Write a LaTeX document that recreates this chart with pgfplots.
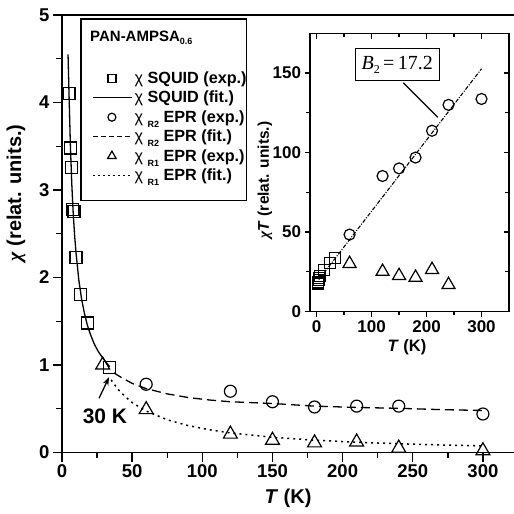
\documentclass[border=0pt]{standalone}
\usepackage{fontspec}
\setmainfont{Liberation Sans}
\newfontfamily\serif{Liberation Serif}
\usepackage{pgfplots}
\pgfplotsset{compat=1.18}
\usetikzlibrary{calc,arrows.meta}
\newcommand{\sub}[1]{\raisebox{-5pt}[0pt][0pt]{\bfseries\fontsize{9}{9}\selectfont #1}}

\begin{document}
\begin{tikzpicture}
\begin{axis}[name=main, scale only axis, width=456pt, height=437.5pt,
 xmin=0, xmax=325, ymin=0, ymax=5,
 xtick={0,50,...,300}, minor x tick num=1,
 ytick={0,1,...,5}, minor y tick num=1,
 tick pos=left, tick align=outside,
 major tick length=9pt, minor tick length=5.5pt,
 axis line style={line width=1.6pt},
 every tick/.style={line width=1.4pt, black},
 /pgf/number format/assume math mode=true,
 ticklabel style={font=\bfseries\fontsize{18.5}{18.5}\selectfont},
 xlabel={\textbf{\textit{T} (K)}},
 ylabel={{\serif\itshape\bfseries χ} \textbf{(relat. units.)}},
 xlabel style={at={(axis description cs:0.4956,-0.104)}, anchor=center, font=\fontsize{20}{20}\selectfont},
 ylabel style={at={(axis description cs:-0.1009,0.593)}, anchor=center, font=\fontsize{20}{20}\selectfont},
 legend style={at={(axis description cs:0.0658,0.8754)}, anchor=north west, draw=none, fill=none,
   inner sep=0pt, font=\fontsize{16.2}{16.2}\selectfont, row sep=2.2pt, column sep=0pt,
   cells={anchor=west}},
 legend image code/.code={\draw[mark repeat=2,mark phase=2,#1] plot coordinates {(0pt,0pt) (19pt,0pt) (39pt,0pt)};},
]
\addplot[only marks, mark=square, mark size=6pt, mark options={line width=1.2pt, solid}, black, forget plot]
 coordinates {(5,4.10)(6,3.48)(6.5,3.26)(7.5,2.78)(8.5,2.75)(10,2.23)(13,1.81)(18,1.48)(34,0.97)};
\addplot[black, line width=1.3pt, no marks, solid, forget plot]
 coordinates {(4.3,4.55)(5,4.10)(6,3.50)(7,3.06)(8,2.73)(9,2.48)(10,2.28)(12,1.97)(14,1.75)(16,1.59)(18,1.46)(20,1.36)(23,1.24)(26,1.15)(30,1.06)(34,0.98)};
\addplot[only marks, mark=o, mark size=6pt, mark options={line width=1.2pt, solid}, black, forget plot]
 coordinates {(60,0.78)(120,0.70)(150,0.58)(180,0.52)(210,0.53)(240,0.53)(300,0.44)};
\addplot[black, line width=1.3pt, no marks, dash pattern=on 9pt off 5pt, forget plot]
 coordinates {(37,0.91)(42,0.86)(50,0.79)(60,0.73)(75,0.67)(90,0.628)(105,0.60)(120,0.58)(150,0.56)(180,0.53)(210,0.515)(240,0.505)(270,0.49)(300,0.48)};
\addplot[only marks, mark=triangle, mark size=8pt, mark options={line width=1.2pt, solid}, black, forget plot]
 coordinates {(29,1.00)(60,0.49)(120,0.21)(150,0.14)(180,0.11)(210,0.12)(240,0.05)(300,0.02)};
\addplot[black, line width=1.5pt, no marks, dash pattern=on 2pt off 4pt, forget plot]
 coordinates {(35,0.83)(40,0.72)(45,0.64)(50,0.57)(60,0.474)(75,0.374)(90,0.307)(105,0.26)(120,0.224)(150,0.174)(180,0.141)(210,0.117)(240,0.10)(270,0.086)(300,0.075)};

\addlegendimage{only marks, mark=square, mark size=4pt, mark options={line width=1.2pt, solid}, black}
\addlegendentry{χ \textbf{SQUID (exp.)}}
\addlegendimage{black, line width=1.3pt, no marks, solid}
\addlegendentry{χ \textbf{SQUID (fit.)}}
\addlegendimage{only marks, mark=o, mark size=4pt, mark options={line width=1.2pt, solid}, black}
\addlegendentry{χ \sub{R2} \textbf{EPR (exp.)}}
\addlegendimage{black, line width=1.3pt, no marks, dash pattern=on 5pt off 3pt}
\addlegendentry{χ \sub{R2} \textbf{EPR (fit.)}}
\addlegendimage{only marks, mark=triangle, mark size=5pt, mark options={line width=1.2pt, solid}, black}
\addlegendentry{χ \sub{R1} \textbf{EPR (exp.)}}
\addlegendimage{black, line width=1.4pt, no marks, dash pattern=on 2pt off 3pt}
\addlegendentry{χ \sub{R1} \textbf{EPR (fit.)}}

\draw[line width=1.5pt] (axis description cs:0.0417,0.9909) rectangle (axis description cs:0.4050,0.5760);
\node[anchor=west, inner sep=0pt, font=\bfseries\fontsize{15}{15}\selectfont] at (axis description cs:0.0614,0.9474)
  {PAN-AMPSA\raisebox{-3pt}{\fontsize{9}{9}\selectfont 0.6}};

\draw[-{Stealth[length=8pt,width=6pt]}, line width=1.3pt] (axis cs:26.4,0.62) -- (axis cs:33.5,0.86);
\node[font=\bfseries\fontsize{21}{21}\selectfont] at (axis cs:30.6,0.41) {30 K};
\end{axis}

\begin{axis}[name=inset, at={($(main.south west)+(248pt,141.2pt)$)}, anchor=south west,
 scale only axis, width=199pt, height=277.9pt,
 xmin=-12, xmax=350, ymin=0, ymax=175,
 xtick={0,100,200,300}, minor x tick num=1,
 ytick={0,50,100,150}, minor y tick num=1,
 tick pos=left, tick align=outside,
 major tick length=5.5pt, minor tick length=4pt,
 axis line style={line width=1.5pt},
 every tick/.style={line width=1.3pt, black},
 /pgf/number format/assume math mode=true,
 ticklabel style={font=\bfseries\fontsize{17}{17}\selectfont},
 xlabel={\textbf{\textit{T} (K)}},
 ylabel={{\serif\itshape\bfseries χ}\textbf{\textit{T} (relat. units.)}},
 xlabel style={at={(axis description cs:0.487,-0.128)}, anchor=center, font=\fontsize{16.5}{16.5}\selectfont},
 ylabel style={at={(axis description cs:-0.226,0.472)}, anchor=center, font=\fontsize{15.5}{15.5}\selectfont},
]
\addplot[black, line width=1.1pt, no marks, dash pattern=on 4pt off 1.5pt on 1pt off 1.5pt]
 coordinates {(4,20)(300,152.7)};
\addplot[only marks, mark=square, mark size=5.5pt, mark options={line width=1.2pt, solid}, black]
 coordinates {(2,17.5)(3,18.5)(4,19.8)(5,21)(6,22)(13,26)(25,30.4)(34,33.5)};
\addplot[only marks, mark=o, mark size=5.5pt, mark options={line width=1.2pt, solid}, black]
 coordinates {(60,48.3)(120,85.2)(150,90)(180,96.8)(210,113.7)(240,130)(300,133.7)};
\addplot[only marks, mark=triangle, mark size=7.5pt, mark options={line width=1.2pt, solid}, black]
 coordinates {(60,30)(120,25)(150,22.4)(180,21.3)(210,26.2)(240,16.7)};
\draw[line width=1.3pt] (axis cs:157.8,143.9) -- (axis cs:220.5,122.2);
\node[draw, line width=1.3pt, fill=white, minimum width=84pt, minimum height=32pt, inner sep=2pt,
  font=\serif\fontsize{20}{20}\selectfont] at (axis cs:146.6,155.3)
  {{\itshape B}\raisebox{-4pt}{\fontsize{12}{12}\selectfont 2}\,=\,17.2};
\end{axis}

\begin{axis}[at={($(main.south west)+(248pt,141.2pt)$)}, anchor=south west,
 scale only axis, width=199pt, height=277.9pt,
 xmin=-12, xmax=350, ymin=0, ymax=175,
 xtick={0,100,200,300}, minor x tick num=1,
 ytick={0,50,100,150}, minor y tick num=1,
 tick pos=right, tick align=inside,
 major tick length=5.5pt, minor tick length=4pt,
 axis line style={line width=1.5pt},
 every tick/.style={line width=1.3pt, black},
 xticklabels={}, yticklabels={},
]
\end{axis}

\pgfresetboundingbox
\path[use as bounding box] ($(main.south west)+(-62pt,-61.5pt)$) rectangle ($(main.south west)+(452pt,452.5pt)$);
\end{tikzpicture}
\end{document}
